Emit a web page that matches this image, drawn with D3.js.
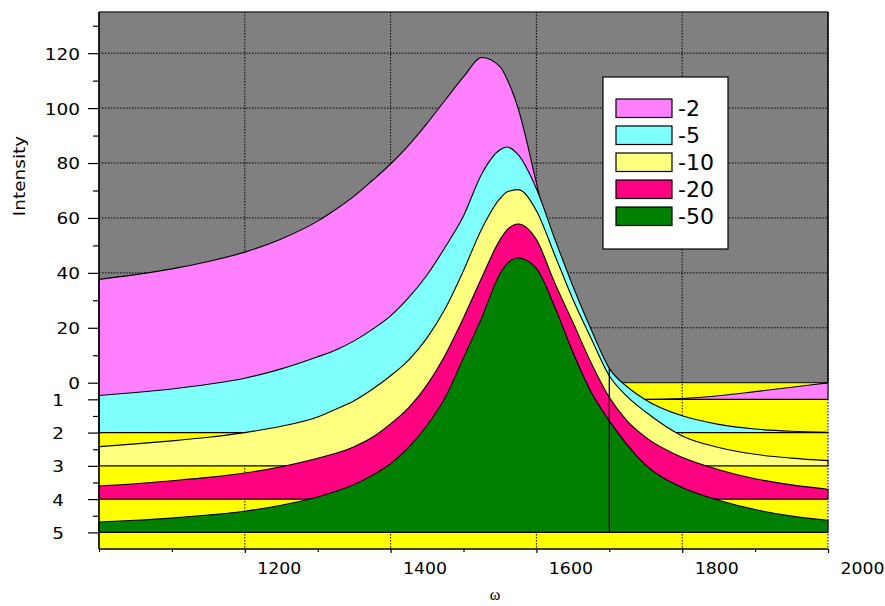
<!DOCTYPE html>
<html>
<head>
<meta charset="utf-8">
<script src="https://cdn.jsdelivr.net/npm/d3@7"></script>
<style>
  body { margin: 0; background: #fff; }
  text { font-family: "DejaVu Sans", sans-serif; fill: #000; }
</style>
</head>
<body>
<svg id="chart" width="885" height="606"></svg>
<script>
// Frequency grid (ω) shared by all series
const omega = [1000,1050,1100,1150,1200,1250,1300,1325,1350,1375,1400,1425,1450,1475,1500,1525,1550,1560,1575,1600,1625,1650,1675,1700,1725,1750,1800,1850,1900,1950,2000];

// Intensity of each series, measured from its own baseline row
const series2  = [43.7,45.4,47.5,50.2,53.6,58.4,64.9,69.2,74.0,79.7,85.7,92.6,100.5,109.0,117.4,124.5,121.2,116.5,105.9,78.8,50.0,24.0,8.0,1.5,0.3,0.0,0.3,1.3,2.8,4.4,6.0];
const series5  = [13.5,14.6,15.9,17.6,19.8,23.2,27.6,30.1,33.4,37.6,42.5,49.2,57.4,67.6,78.9,94.2,103.0,104.0,101.2,88.8,70.7,53.4,37.6,23.4,16.6,11.9,6.1,3.0,1.3,0.5,0.15];
const series10 = [7.0,8.0,9.1,10.4,12.1,14.4,17.8,20.6,23.7,27.9,32.8,38.6,46.6,57.3,71.1,86.3,97.3,99.8,100.6,92.9,76.9,60.7,46.5,32.8,25.1,19.6,10.9,6.7,4.2,2.8,1.9];
const series20 = [4.8,5.6,6.7,7.9,9.5,11.8,14.9,16.7,19.1,22.5,27.4,33.3,41.6,52.5,66.0,80.6,94.4,98.1,100.2,94.5,78.8,64.4,49.7,37.1,28.3,22.5,15.2,10.7,7.4,5.2,3.6];
const series50 = [3.8,4.4,5.2,6.3,7.7,9.9,12.9,15.0,17.4,20.8,25.0,31.0,39.0,49.2,63.6,78.2,94.2,97.9,99.9,96.1,82.2,65.6,51.1,40.6,31.7,24.5,16.3,11.7,8.3,5.9,4.4];

const seriesLabels = ["-2","-5","-10","-20","-50"];
const seriesDepth  = [1,2,3,4,5];
const seriesColors = ["#ff80ff","#80ffff","#ffff80","#ff0080","#008000"];
const seriesValues = [series2, series5, series10, series20, series50];

// Axis ticks
const intensityTicks = [0,20,40,60,80,100,120];
const intensityMinor = [10,30,50,70,90,110,130];
const depthTicks = [1,2,3,4,5];
const depthMinor = [1.5,2.5,3.5,4.5];
const omegaTicks = [1200,1400,1600,1800,2000];
const omegaMinor = [1000,1100,1300,1500,1700,1900];
const markerOmega = 1700;

const svg = d3.select("#chart");

const x  = d3.scaleLinear().domain([1000, 2000]).range([99, 828]);
const yI = d3.scaleLinear().domain([0, 135]).range([382.7, 12]);
const yD = d3.scaleLinear().domain([0.5, 5.5]).range([382.7, 549]);
const lift = v => yI(v) - yI(0);
const curveY = (v, row) => yD(row) + lift(v);

const xL = x(1000), xR = x(2000);
const stretch = 1.12;

// Back wall and floor
svg.append("rect")
  .attr("x", xL).attr("y", yI(135))
  .attr("width", xR - xL).attr("height", yI(0) - yI(135))
  .attr("fill", "#808080");
svg.append("rect")
  .attr("x", xL).attr("y", yD(0.5))
  .attr("width", xR - xL).attr("height", yD(5.5) - yD(0.5))
  .attr("fill", "#ffff00");

// Dotted grid
const grid = svg.append("g")
  .attr("stroke", "#000").attr("stroke-width", 1)
  .attr("stroke-dasharray", "1.5,1.5").attr("fill", "none");
grid.selectAll("line.v").data(omegaTicks).join("line")
  .attr("class", "v")
  .attr("x1", d => x(d)).attr("x2", d => x(d))
  .attr("y1", yI(135)).attr("y2", yD(5.5));
grid.selectAll("line.h").data(intensityTicks.filter(d => d > 0)).join("line")
  .attr("class", "h")
  .attr("x1", xL).attr("x2", xR)
  .attr("y1", d => yI(d)).attr("y2", d => yI(d));

// Edge between wall and floor
svg.append("line")
  .attr("x1", xL).attr("x2", xR)
  .attr("y1", yI(0)).attr("y2", yI(0))
  .attr("stroke", "#000").attr("stroke-width", 1);

// Series ribbons, back to front
const area = d3.area()
  .x((d, i) => x(omega[i]))
  .curve(d3.curveMonotoneX);

seriesValues.forEach((vals, k) => {
  const row = seriesDepth[k];
  svg.append("path")
    .datum(vals)
    .attr("d", area.y0(() => yD(row)).y1(v => curveY(v, row)))
    .attr("fill", seriesColors[k])
    .attr("stroke", "#000")
    .attr("stroke-width", 1.1)
    .attr("stroke-linejoin", "round");
});

// Marker line at ω = 1700
const mi = omega.indexOf(markerOmega);
const markerTop = d3.min(seriesValues.map((vals, k) => curveY(vals[mi], seriesDepth[k])));
svg.append("line")
  .attr("x1", x(markerOmega)).attr("x2", x(markerOmega))
  .attr("y1", markerTop).attr("y2", yD(5))
  .attr("stroke", "#000").attr("stroke-width", 1.3);

// Frame
svg.append("line").attr("x1", xL).attr("x2", xR).attr("y1", yI(135)).attr("y2", yI(135))
  .attr("stroke", "#333").attr("stroke-width", 1.4);
svg.append("line").attr("x1", xR).attr("x2", xR).attr("y1", yI(135)).attr("y2", yI(0))
  .attr("stroke", "#000").attr("stroke-width", 1.5);
svg.append("line").attr("x1", xL).attr("x2", xR).attr("y1", yD(5.5)).attr("y2", yD(5.5))
  .attr("stroke", "#000").attr("stroke-width", 1.3);

// Left axes
function styleAxis(g) {
  g.attr("font-family", null).attr("font-size", null);
  g.select(".domain").remove();
  g.selectAll(".tick line").attr("stroke", "#000").attr("stroke-width", 1.2);
}
const fmt = d3.format("d");

const gI = svg.append("g").attr("transform", `translate(${xL},0)`)
  .call(d3.axisLeft(yI).tickValues(intensityTicks).tickSize(11).tickFormat(fmt));
styleAxis(gI);
gI.selectAll("text")
  .style("font-size", "16.5px")
  .attr("x", -19 / stretch).attr("dy", "0.36em")
  .attr("transform", `scale(${stretch},1)`);

const gIm = svg.append("g").attr("transform", `translate(${xL},0)`)
  .call(d3.axisLeft(yI).tickValues(intensityMinor).tickSize(6).tickFormat(""));
styleAxis(gIm);

const gD = svg.append("g").attr("transform", `translate(${xL},0)`)
  .call(d3.axisLeft(yD).tickValues(depthTicks).tickSize(11).tickFormat(fmt));
styleAxis(gD);
gD.selectAll("text")
  .style("font-size", "16.5px")
  .attr("x", -35 / stretch).attr("dy", "0.36em")
  .attr("transform", `scale(${stretch},1)`);

const gDm = svg.append("g").attr("transform", `translate(${xL},0)`)
  .call(d3.axisLeft(yD).tickValues(depthMinor).tickSize(6).tickFormat(""));
styleAxis(gDm);

svg.append("line").attr("x1", xL).attr("x2", xL).attr("y1", yI(135)).attr("y2", yD(5.5))
  .attr("stroke", "#000").attr("stroke-width", 1.7);

// Bottom axis
const xStretch = 1.05;
const gX = svg.append("g").attr("transform", `translate(0,${yD(5.5)})`)
  .call(d3.axisBottom(x).tickValues(omegaTicks).tickSize(4).tickPadding(9).tickFormat(fmt));
styleAxis(gX);
gX.selectAll("text")
  .style("font-size", "16.5px")
  .attr("x", 34 / xStretch)
  .attr("transform", `scale(${xStretch},1)`);

const gXm = svg.append("g").attr("transform", `translate(0,${yD(5.5)})`)
  .call(d3.axisBottom(x).tickValues(omegaMinor).tickSize(3).tickFormat(""));
styleAxis(gXm);

// Axis titles
svg.append("text")
  .attr("transform", `translate(25.3,176) rotate(-90) scale(${stretch},1)`)
  .attr("text-anchor", "middle")
  .style("font-size", "16.5px")
  .text("Intensity");

svg.append("text")
  .attr("x", 495).attr("y", 600)
  .attr("text-anchor", "middle")
  .style("font-family", "'Liberation Serif', serif")
  .style("font-size", "16px")
  .text("ω");

// Legend
const legend = svg.append("g").attr("transform", "translate(603,77)");
legend.append("rect")
  .attr("width", 125).attr("height", 172)
  .attr("fill", "#fff").attr("stroke", "#000").attr("stroke-width", 1.2);
const entries = legend.selectAll("g.entry").data(seriesLabels).join("g")
  .attr("class", "entry")
  .attr("transform", (d, i) => `translate(13,${22 + i * 27})`);
entries.append("rect")
  .attr("width", 56).attr("height", 18.5)
  .attr("fill", (d, i) => seriesColors[i])
  .attr("stroke", "#000").attr("stroke-width", 1.2);
entries.append("text")
  .attr("transform", "translate(62,17) scale(1.05,1)")
  .style("font-size", "21px")
  .text(d => d);
</script>
</body>
</html>
